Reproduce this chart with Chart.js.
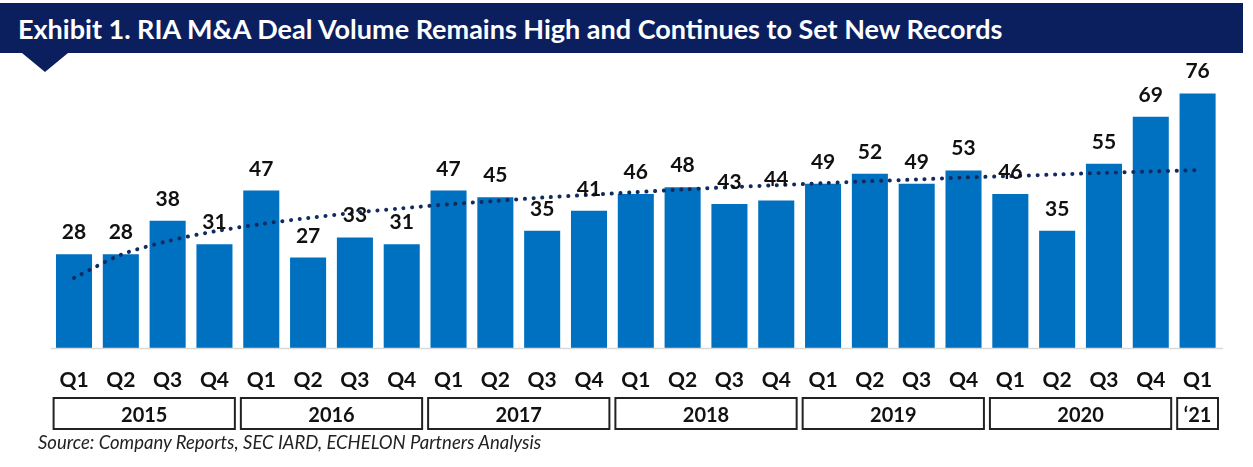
<!DOCTYPE html>
<html>
<head>
<meta charset="utf-8">
<script src="https://cdn.jsdelivr.net/npm/chart.js@4"></script>
<style>
  html, body { margin: 0; padding: 0; background: #fff; }
  #wrap { position: relative; width: 1253px; height: 467px; overflow: hidden; }
  #banner {
    position: absolute; left: 0; top: 3px; width: 1243px; height: 50px;
    background: #0b1f5e; color: #fff;
    font: bold 27px Lato, sans-serif; line-height: 52px;
    box-sizing: border-box; padding-left: 18px; white-space: nowrap;
  }
  #notch {
    position: absolute; left: 22px; top: 53px; width: 0; height: 0;
    border-left: 23px solid transparent; border-right: 23px solid transparent;
    border-top: 19px solid #0b1f5e;
  }
  #source {
    position: absolute; left: 38px; top: 431px;
    font: italic 18.5px Lato, sans-serif; color: #222; white-space: nowrap;
  }
  canvas { position: absolute; left: 0; top: 0; }
</style>
</head>
<body>
<div id="wrap">
  <canvas id="chart" width="1253" height="467"></canvas>
  <div id="banner">Exhibit 1. RIA M&amp;A Deal Volume Remains High and Continues to Set New Records</div>
  <div id="notch"></div>
  <div id="source">Source: Company Reports, SEC IARD, ECHELON Partners Analysis</div>
</div>
<script>
const quarters = ['Q1','Q2','Q3','Q4','Q1','Q2','Q3','Q4','Q1','Q2','Q3','Q4','Q1','Q2','Q3','Q4',
                  'Q1','Q2','Q3','Q4','Q1','Q2','Q3','Q4','Q1'];
const deals = [28, 28, 38, 31, 47, 27, 33, 31, 47, 45, 35, 41, 46, 48, 43, 44,
               49, 52, 49, 53, 46, 35, 55, 69, 76];
// dotted trend line
const trend = [20.9, 27.8, 31.9, 34.8, 37.0, 38.8, 40.4, 41.7, 42.9, 43.9, 44.9, 45.7, 46.5,
               47.3, 48.0, 48.6, 49.2, 49.8, 50.3, 50.9, 51.3, 51.8, 52.3, 52.7, 53.1];
const years = ['2015', '2016', '2017', '2018', '2019', '2020', '\u201821'];
const yearSpans = [4, 4, 4, 4, 4, 4, 1];

const extras = {
  id: 'extras',
  afterDatasetsDraw(chart) {
    const ctx = chart.ctx;
    const x = chart.scales.x;
    const area = chart.chartArea;
    const step = x.getPixelForValue(1) - x.getPixelForValue(0);

    // baseline
    ctx.save();
    ctx.strokeStyle = '#d9d9d9';
    ctx.lineWidth = 1.5;
    ctx.beginPath();
    ctx.moveTo(area.left, area.bottom + 0.5);
    ctx.lineTo(area.right + 2, area.bottom + 0.5);
    ctx.stroke();

    // value labels on the bars
    ctx.fillStyle = '#111';
    ctx.font = 'bold 21px Lato, sans-serif';
    ctx.textAlign = 'center';
    ctx.textBaseline = 'alphabetic';
    chart.getDatasetMeta(1).data.forEach((bar, i) => {
      ctx.fillText(String(deals[i]), bar.x, bar.y - 15);
    });

    // quarter labels
    ctx.font = 'bold 21px Lato, sans-serif';
    quarters.forEach((q, i) => {
      ctx.fillText(q, x.getPixelForValue(i), 387);
    });

    // year boxes
    let start = 0;
    ctx.strokeStyle = '#222';
    ctx.lineWidth = 2;
    ctx.font = 'bold 20px Lato, sans-serif';
    years.forEach((y, k) => {
      const end = start + yearSpans[k] - 1;
      const l = x.getPixelForValue(start) - step / 2 + 3;
      const r = x.getPixelForValue(end) + step / 2 - 3;
      ctx.strokeRect(l, 398, r - l, 31);
      ctx.fillText(y, (l + r) / 2, 422);
      start = end + 1;
    });
    ctx.restore();
  }
};

new Chart(document.getElementById('chart'), {
  data: {
    labels: quarters,
    datasets: [
      {
        type: 'line',
        data: trend,
        borderColor: '#132a5e',
        borderWidth: 4,
        borderDash: [0.1, 8.6],
        borderCapStyle: 'round',
        pointRadius: 0,
        tension: 0.3,
        order: 0
      },
      {
        type: 'bar',
        data: deals,
        backgroundColor: '#0070c0',
        barPercentage: 0.77,
        categoryPercentage: 1,
        order: 1
      }
    ]
  },
  options: {
    responsive: false,
    animation: false,
    layout: { padding: { left: 50.6, right: 32, top: 80, bottom: 119 } },
    plugins: { legend: { display: false }, tooltip: { enabled: false } },
    scales: {
      x: { display: false },
      y: { display: false, min: 0, max: 80 }
    }
  },
  plugins: [extras]
});
</script>
</body>
</html>
